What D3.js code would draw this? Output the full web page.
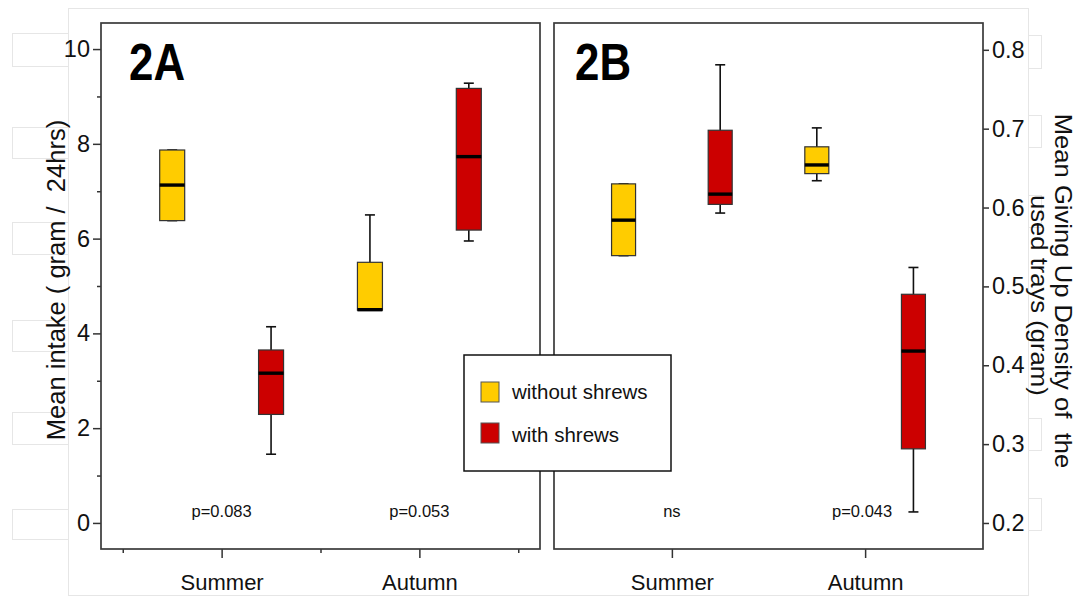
<!DOCTYPE html>
<html>
<head>
<meta charset="utf-8">
<script src="https://cdn.jsdelivr.net/npm/d3@7"></script>
<style>
  body { margin: 0; background: #fff; }
  svg { display: block; font-family: "Liberation Sans", Arial, sans-serif; }
  text { white-space: pre; }
</style>
</head>
<body>
<div id="chart"></div>
<script>
// order of boxes: Summer/without, Summer/with, Autumn/without, Autumn/with
const seasons = ["Summer", "Autumn"];
const groups = ["without shrews", "with shrews"];
const groupColors = ["#FFCC00", "#CC0000"];

// 2A: mean intake (gram / 24hrs)
const intakeMin    = [6.38, 1.45, 4.49, 5.95];
const intakeQ1     = [6.38, 2.29, 4.49, 6.18];
const intakeMedian = [7.13, 3.16, 4.50, 7.73];
const intakeQ3     = [7.87, 3.65, 5.50, 9.17];
const intakeMax    = [7.87, 4.14, 6.50, 9.28];
const intakeTicks  = [0, 2, 4, 6, 8, 10];
const intakeMinor  = [1, 3, 5, 7, 9];
const pValuesA     = ["p=0.083", "p=0.053"];

// 2B: mean giving up density (gram)
const gudMin    = [0.539, 0.593, 0.634, 0.214];
const gudQ1     = [0.539, 0.604, 0.643, 0.294];
const gudMedian = [0.584, 0.617, 0.654, 0.418];
const gudQ3     = [0.630, 0.698, 0.677, 0.490];
const gudMax    = [0.630, 0.781, 0.701, 0.524];
const gudTicks  = [0.2, 0.3, 0.4, 0.5, 0.6, 0.7, 0.8];
const pValuesB  = ["ns", "p=0.043"];

const width = 1078;
const height = 601;
const plotTop = 23, plotBottom = 549;

const svg = d3.select("#chart")
  .append("svg")
    .attr("width", width)
    .attr("height", height);

// faint page cells behind the figure
const bgCells = [
  [68, 8, 960, 587],
  [12, 33, 56, 33], [12, 127, 56, 31], [12, 222, 56, 32],
  [12, 320, 56, 31], [12, 412, 56, 32], [12, 509, 56, 30],
  [1028, 35, 13, 33], [1028, 115, 13, 32], [1028, 195, 13, 32],
  [1028, 418, 13, 32], [1028, 498, 13, 32]
];
svg.append("g").selectAll("rect")
  .data(bgCells)
  .join("rect")
    .attr("x", d => d[0] + 0.5).attr("y", d => d[1] + 0.5)
    .attr("width", d => d[2]).attr("height", d => d[3])
    .attr("fill", "#fff")
    .attr("stroke", "#e6e6e6")
    .attr("stroke-width", 1);

function drawBoxes(g, x, y, mins, q1s, meds, q3s, maxs, boxW) {
  const capW = 10;
  mins.forEach((mn, i) => {
    const cx = x(i + 1);
    const col = groupColors[i % 2];
    g.append("line")
      .attr("x1", cx).attr("x2", cx)
      .attr("y1", y(maxs[i])).attr("y2", y(mn))
      .attr("stroke", "#111").attr("stroke-width", 1.6);
    [mn, maxs[i]].forEach(v => {
      g.append("line")
        .attr("x1", cx - capW / 2).attr("x2", cx + capW / 2)
        .attr("y1", y(v)).attr("y2", y(v))
        .attr("stroke", "#111").attr("stroke-width", 1.6);
    });
    g.append("rect")
      .attr("x", cx - boxW / 2)
      .attr("y", y(q3s[i]))
      .attr("width", boxW)
      .attr("height", Math.max(1, y(q1s[i]) - y(q3s[i])))
      .attr("fill", col)
      .attr("stroke", "#333")
      .attr("stroke-width", 1.2);
    g.append("line")
      .attr("x1", cx - boxW / 2).attr("x2", cx + boxW / 2)
      .attr("y1", y(meds[i])).attr("y2", y(meds[i]))
      .attr("stroke", "#000").attr("stroke-width", 3.4);
  });
}

function styleAxis(sel, fontSize) {
  sel.select(".domain").remove();
  sel.selectAll(".tick line").attr("stroke", "#333").attr("stroke-width", 1.5);
  sel.selectAll(".tick text")
    .attr("fill", "#111")
    .style("font-size", fontSize + "px")
    .style("font-family", "'Liberation Sans', Arial, sans-serif");
}

// ---------- panel 2A ----------
const xA = d3.scaleLinear([0.28, 4.72], [101, 540]);
const yA = d3.scaleLinear([-0.55, 10.55], [plotBottom, plotTop]);

svg.append("g")
  .attr("transform", "translate(101,0)")
  .call(d3.axisLeft(yA).tickValues(intakeTicks).tickSize(8).tickPadding(3))
  .call(g => styleAxis(g, 23.5));
svg.append("g")
  .attr("transform", "translate(101,0)")
  .call(d3.axisLeft(yA).tickValues(intakeMinor).tickSize(4).tickFormat(""))
  .call(g => styleAxis(g, 1));

svg.append("g")
  .attr("transform", `translate(0,${plotBottom})`)
  .call(d3.axisBottom(xA).tickValues([1.5, 3.5]).tickFormat((d, i) => seasons[i]).tickSize(9).tickPadding(16.5))
  .call(g => styleAxis(g, 22));
svg.append("g")
  .attr("transform", `translate(0,${plotBottom})`)
  .call(d3.axisBottom(xA).tickValues([0.5, 2.5, 4.5]).tickSize(4).tickFormat(""))
  .call(g => styleAxis(g, 1));

const gA = svg.append("g");
drawBoxes(gA, xA, yA, intakeMin, intakeQ1, intakeMedian, intakeQ3, intakeMax, 25);

svg.append("rect")
  .attr("x", 101).attr("y", plotTop)
  .attr("width", 540 - 101).attr("height", plotBottom - plotTop)
  .attr("fill", "none").attr("stroke", "#3a3a3a").attr("stroke-width", 1.7);

svg.append("g").selectAll("text")
  .data(pValuesA)
  .join("text")
    .attr("x", (d, i) => xA(1.5 + 2 * i))
    .attr("y", 517)
    .attr("text-anchor", "middle")
    .style("font-size", "16.5px")
    .attr("fill", "#111")
    .text(d => d);

svg.append("text")
  .attr("transform", "translate(129,80) scale(0.86,1)")
  .style("font-size", "51px")
  .style("font-weight", "bold")
  .attr("fill", "#000")
  .text("2A");

svg.append("text")
  .attr("transform", "translate(65,280) rotate(-90)")
  .attr("text-anchor", "middle")
  .style("font-size", "25.5px")
  .attr("fill", "#111")
  .text("Mean intake ( gram /  24hrs)");

// ---------- panel 2B ----------
const xB = d3.scaleLinear([0.28, 4.72], [554, 983]);
const yB = d3.scaleLinear([0.167, 0.834], [plotBottom, plotTop]);

svg.append("g")
  .attr("transform", "translate(983,0)")
  .call(d3.axisRight(yB).tickValues(gudTicks).tickSize(6).tickPadding(3).tickFormat(d3.format(".1f")))
  .call(g => styleAxis(g, 23.5));

svg.append("g")
  .attr("transform", `translate(0,${plotBottom})`)
  .call(d3.axisBottom(xB).tickValues([1.5, 3.5]).tickFormat((d, i) => seasons[i]).tickSize(9).tickPadding(16.5))
  .call(g => styleAxis(g, 22));

const gB = svg.append("g");
drawBoxes(gB, xB, yB, gudMin, gudQ1, gudMedian, gudQ3, gudMax, 24);

svg.append("rect")
  .attr("x", 554).attr("y", plotTop)
  .attr("width", 983 - 554).attr("height", plotBottom - plotTop)
  .attr("fill", "none").attr("stroke", "#3a3a3a").attr("stroke-width", 1.7);

svg.append("g").selectAll("text")
  .data(pValuesB)
  .join("text")
    .attr("x", (d, i) => xB(1.5 + 2 * i) - (i === 1 ? 3 : 0))
    .attr("y", 517)
    .attr("text-anchor", "middle")
    .style("font-size", "16.5px")
    .attr("fill", "#111")
    .text(d => d);

svg.append("text")
  .attr("transform", "translate(575,80) scale(0.86,1)")
  .style("font-size", "51px")
  .style("font-weight", "bold")
  .attr("fill", "#000")
  .text("2B");

const rightTitle = svg.append("text")
  .attr("transform", "translate(1055,291) rotate(90) scale(1.09,1)")
  .attr("text-anchor", "middle")
  .style("font-size", "23.5px")
  .attr("fill", "#111");
rightTitle.append("tspan").attr("x", 0).attr("y", 0).text("Mean Giving Up Density of  the");
rightTitle.append("tspan").attr("x", 4).attr("y", 24).text("used trays (gram)");

// ---------- legend ----------
const legend = svg.append("g").attr("transform", "translate(464,355)");
legend.append("rect")
  .attr("width", 207).attr("height", 116)
  .attr("fill", "#fff").attr("stroke", "#111").attr("stroke-width", 1.5);
groups.forEach((name, i) => {
  legend.append("rect")
    .attr("x", 17).attr("y", 27 + i * 41)
    .attr("width", 18).attr("height", 20)
    .attr("fill", groupColors[i]).attr("stroke", "#555").attr("stroke-width", 1);
  legend.append("text")
    .attr("x", 48).attr("y", 44 + i * 43)
    .style("font-size", "20.5px")
    .attr("fill", "#111")
    .text(name);
});
</script>
</body>
</html>
